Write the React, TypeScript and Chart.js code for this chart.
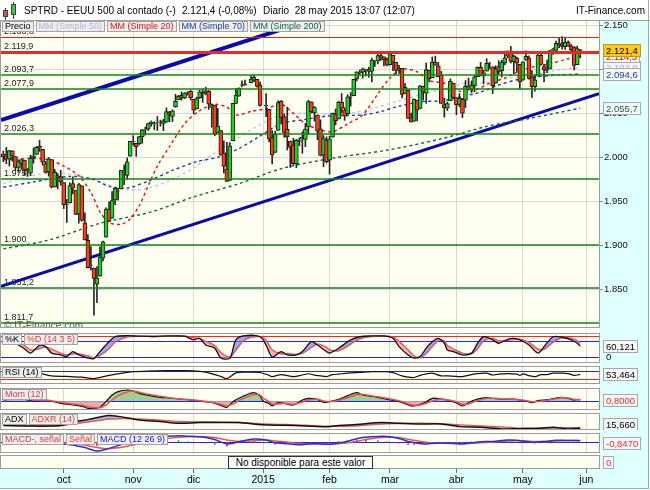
import React, { useEffect, useRef } from 'react';
import Chart from 'chart.js/auto';

const FONT = '"Liberation Sans", Arial, Helvetica, sans-serif';

// ---------- time axis: index = weekday count from 3 sep 2014 ----------
const monthStarts = [20, 43, 63, 86, 108, 128, 150, 172, 193];
const monthNames = ['oct', 'nov', 'dic', '2015', 'feb', 'mar', 'abr', 'may', 'jun'];
const priceTicks = [1850, 1900, 1950, 2000, 2050, 2100, 2150];

// ---------- daily candles (sep 2014 .. 28 may 2015) ----------
const opens = [
  2003.6, 2001.7, 1998.0, 2007.2, 2000.7, 1988.4, 1992.9, 1996.7, 1986.0, 1981.9, 1999.3, 2003.1, 2012.7, 2009.1, 1992.8, 1983.3, 1997.3, 1966.2, 1978.9, 1978.2,
  1971.4, 1945.8, 1948.1, 1970.0, 1962.4, 1935.6, 1967.7, 1925.6, 1905.7, 1877.1, 1874.2, 1855.9, 1864.9, 1885.6, 1909.4, 1941.3, 1931.0, 1951.6, 1962.0, 1964.1, 1983.3, 1979.5, 2001.2,
  2018.2, 2015.8, 2015.3, 2023.3, 2032.0, 2032.0, 2038.2, 2037.8, 2039.2, 2039.7, 2038.3, 2039.7, 2051.2, 2046.3, 2057.5, 2065.1, 2070.2, 2067.4, 2072.5, 2074.8,
  2065.8, 2054.8, 2067.5, 2073.6, 2072.8, 2074.8, 2056.6, 2058.9, 2027.9, 2030.4, 2005.0, 1986.7, 1973.8, 2018.9, 2061.0, 2069.3, 2081.5, 2083.3, null, 2084.3, 2087.6, 2088.5, 2082.1,
  null, 2058.9, 2054.4, 2022.2, 2005.6, 2030.6, 2063.5, 2046.1, 2031.6, 2018.4, 2013.8, 1992.3, 2019.0, 2020.8, 2020.2, 2034.3, 2062.9, 2050.4, 2047.9, 2032.3, 2002.5, 2019.4,
  1996.7, 2022.7, 2048.9, 2043.5, 2062.3, 2053.5, 2049.4, 2068.6, 2070.0, 2088.8, 2096.5, 2096.5, 2099.2, 2099.2, 2097.7, 2109.8, 2109.1, 2115.3, 2113.9, 2110.9,
  2105.2, 2115.8, 2107.7, 2098.5, 2100.9, 2072.3, 2076.1, 2044.7, 2041.1, 2064.6, 2055.4, 2080.6, 2072.8, 2098.7, 2090.3, 2108.0, 2103.9, 2093.1, 2059.9, 2055.8, 2064.1, 2084.1,
  2067.6, 2060.0, 2066.0, 2064.9, 2080.8, 2076.9, 2081.3, 2091.5, 2102.0, 2092.3, 2097.8, 2105.0, 2102.6, 2084.1, 2102.8, 2098.3, 2107.2, 2114.8, 2119.3, 2108.4, 2112.5, 2105.5,
  2087.4, 2110.2, 2112.6, 2091.3, 2080.0, 2092.1, 2115.6, 2102.9, 2099.6, 2100.4, 2122.1, 2121.3, 2129.5, 2127.8, 2125.6, 2130.4, 2126.5, 2125.3, 2105.1, 2122.3,
];
const highs = [
  2006.8, 2011.2, 2007.7, 2007.2, 2001.0, 1996.7, 1997.7, 1996.7, 1987.2, 2002.3, 2010.7, 2012.3, 2019.3, 2009.1, 1995.4, 1999.8, 1997.3, 1986.4, 1981.3, 1985.2,
  1971.4, 1952.3, 1971.2, 1977.8, 1962.4, 1970.4, 1967.7, 1936.9, 1912.1, 1898.7, 1874.2, 1876.0, 1898.2, 1905.0, 1942.5, 1949.3, 1961.0, 1965.3, 1964.6, 1985.1, 1991.4, 1999.4, 2018.2,
  2024.5, 2016.0, 2023.8, 2031.6, 2034.3, 2038.7, 2041.3, 2040.3, 2046.2, 2042.2, 2043.1, 2056.1, 2052.1, 2053.9, 2071.5, 2070.2, 2074.2, 2073.3, 2074.5, 2075.8,
  2065.8, 2068.2, 2076.3, 2077.3, 2079.5, 2075.8, 2060.6, 2058.9, 2055.5, 2030.4, 2018.7, 2016.9, 2016.8, 2061.2, 2077.9, 2078.8, 2086.7, 2087.6, null, 2092.7, 2093.6, 2088.5, 2085.7,
  null, 2072.4, 2054.4, 2030.3, 2029.6, 2064.1, 2064.4, 2049.3, 2056.9, 2018.4, 2021.4, 2020.5, 2022.0, 2028.9, 2038.3, 2064.6, 2062.9, 2057.6, 2047.9, 2042.5, 2024.6, 2023.3,
  2023.9, 2050.3, 2054.7, 2063.6, 2072.4, 2056.2, 2070.9, 2073.5, 2088.5, 2097.0, 2099.0, 2101.3, 2100.2, 2102.1, 2112.7, 2110.1, 2117.9, 2119.6, 2113.9, 2112.7,
  2117.5, 2115.8, 2107.7, 2104.3, 2100.9, 2083.5, 2076.1, 2050.1, 2066.4, 2064.6, 2081.4, 2080.6, 2106.9, 2098.7, 2113.9, 2114.9, 2107.6, 2097.4, 2067.2, 2062.8, 2089.0, 2084.1,
  2067.6, 2072.2, 2067.0, 2087.0, 2089.8, 2086.7, 2093.3, 2102.6, 2107.7, 2098.6, 2111.9, 2107.9, 2102.6, 2103.9, 2109.6, 2110.0, 2120.5, 2120.9, 2125.9, 2116.0, 2113.7, 2105.5,
  2108.4, 2120.9, 2115.2, 2098.4, 2092.9, 2117.7, 2117.7, 2105.1, 2110.2, 2121.5, 2123.9, 2131.8, 2135.5, 2137.0, 2136.0, 2132.2, 2128.0, 2125.3, 2126.2, 2122.3,
];
const lows = [
  1994.9, 1992.5, 1990.1, 1995.6, 1984.6, 1982.9, 1985.9, 1980.3, 1978.5, 1979.1, 1993.3, 2003.1, 2006.6, 1991.0, 1982.4, 1978.6, 1965.1, 1966.2, 1964.0, 1968.0,
  1941.7, 1926.0, 1948.1, 1958.4, 1934.9, 1925.3, 1927.6, 1906.1, 1874.1, 1871.8, 1820.7, 1835.0, 1864.9, 1882.3, 1909.4, 1926.8, 1931.0, 1946.3, 1951.4, 1964.1, 1969.0, 1974.8, 2001.2,
  2013.7, 2001.0, 2014.0, 2015.9, 2025.1, 2030.2, 2035.3, 2031.3, 2030.4, 2035.2, 2030.2, 2039.7, 2040.4, 2040.5, 2056.8, 2065.1, 2064.8, 2066.6, 2070.5, 2065.1,
  2049.6, 2054.8, 2066.7, 2062.3, 2070.8, 2054.3, 2034.2, 2024.3, 2027.9, 2002.3, 1982.3, 1972.6, 1973.8, 2018.9, 2061.0, 2069.3, 2079.8, 2081.9, null, 2084.3, 2085.8, 2079.5, 2057.9,
  null, 2046.0, 2017.3, 1992.4, 2005.6, 2030.6, 2038.3, 2022.6, 2008.3, 1988.4, 1991.5, 1988.1, 2013.0, 2004.5, 2012.0, 2026.4, 2050.5, 2041.0, 2019.9, 2001.5, 1989.2, 1993.4,
  1980.9, 2022.7, 2036.7, 2043.5, 2050.0, 2041.9, 2048.6, 2058.0, 2070.0, 2086.7, 2094.0, 2089.8, 2092.2, 2090.8, 2085.4, 2103.0, 2105.9, 2109.9, 2103.8, 2103.8,
  2104.5, 2098.3, 2094.5, 2095.2, 2067.3, 2072.2, 2044.2, 2039.7, 2041.1, 2041.2, 2055.4, 2065.1, 2061.2, 2085.6, 2090.3, 2104.4, 2091.5, 2061.1, 2045.5, 2053.0, 2064.1, 2067.0,
  2048.4, 2057.3, 2045.0, 2056.5, 2076.1, 2073.3, 2074.3, 2091.5, 2092.3, 2083.2, 2097.8, 2100.3, 2072.4, 2084.1, 2094.4, 2091.1, 2104.9, 2112.8, 2107.0, 2094.9, 2097.4, 2077.6,
  2087.4, 2110.2, 2088.5, 2067.9, 2075.0, 2092.1, 2104.6, 2085.6, 2096.0, 2100.4, 2116.8, 2120.0, 2124.5, 2122.6, 2122.5, 2126.1, 2120.0, 2099.2, 2105.1, 2112.8,
];
const closes = [
  2000.7, 1997.7, 2007.7, 2001.5, 1988.4, 1995.7, 1997.5, 1985.5, 1984.1, 1999.0, 2001.6, 2011.4, 2010.4, 1994.3, 1982.8, 1998.3, 1966.0, 1982.9, 1977.8, 1972.3,
  1946.2, 1946.2, 1967.9, 1964.8, 1935.1, 1968.9, 1928.2, 1906.1, 1874.7, 1877.7, 1862.5, 1862.8, 1886.8, 1904.0, 1941.3, 1927.1, 1950.8, 1964.6, 1961.6, 1985.1, 1982.3, 1994.7, 2018.1,
  2017.8, 2012.1, 2023.6, 2031.2, 2031.9, 2038.3, 2039.7, 2038.3, 2039.3, 2039.8, 2041.3, 2051.8, 2048.7, 2052.8, 2063.5, 2069.4, 2067.0, 2072.8, 2073.5, 2067.6,
  2053.4, 2066.6, 2074.3, 2071.9, 2075.4, 2060.3, 2059.8, 2026.1, 2035.3, 2002.3, 1989.6, 1972.7, 2012.9, 2061.2, 2070.7, 2078.5, 2082.2, 2081.9, null, 2088.8, 2090.6, 2080.4, 2058.9,
  null, 2058.2, 2020.6, 2002.6, 2025.9, 2062.1, 2044.8, 2028.3, 2023.0, 2011.3, 1992.7, 2019.4, 2018.0, 2022.6, 2032.1, 2063.2, 2051.8, 2057.1, 2029.6, 2002.2, 2021.3, 1995.0,
  2020.9, 2050.0, 2041.5, 2062.5, 2055.5, 2046.7, 2068.6, 2068.5, 2088.5, 2097.0, 2096.0, 2100.3, 2099.7, 2097.5, 2110.3, 2109.7, 2115.5, 2113.9, 2110.7, 2104.5,
  2117.4, 2107.8, 2098.5, 2101.0, 2071.3, 2079.4, 2044.2, 2040.2, 2066.0, 2053.4, 2081.2, 2074.3, 2099.5, 2089.3, 2108.1, 2104.4, 2091.5, 2061.1, 2056.2, 2061.0, 2086.2, 2067.9,
  2059.7, 2067.0, 2050.0, 2080.6, 2076.3, 2081.9, 2091.2, 2102.1, 2092.4, 2095.8, 2106.6, 2105.0, 2081.2, 2100.4, 2097.3, 2108.0, 2112.9, 2117.7, 2108.9, 2114.8, 2106.9, 2085.5,
  2108.3, 2114.5, 2089.5, 2080.2, 2088.0, 2116.1, 2105.3, 2099.1, 2098.5, 2121.1, 2122.7, 2129.2, 2127.8, 2125.9, 2130.8, 2126.1, 2122.0, 2104.2, 2123.5, 2121.4,
];

// ---------- moving averages [index, value] ----------
const sma20 = [[0, 1997], [5, 1998], [10, 1999], [15, 1997], [20, 1990], [25, 1979], [29, 1960], [32, 1938], [35, 1926], [39, 1924], [42, 1930], [45, 1945], [48, 1968], [51, 1990], [55, 2012], [60, 2038], [65, 2053], [70, 2060], [74, 2057], [77, 2048], [82, 2052], [87, 2055], [92, 2060], [96, 2050], [100, 2038], [105, 2031], [109, 2029], [114, 2038], [119, 2048], [124, 2072], [128, 2090], [132, 2100], [137, 2097], [141, 2087], [146, 2084], [151, 2075], [156, 2076], [161, 2084], [166, 2090], [171, 2098], [176, 2103], [181, 2106], [186, 2111], [191, 2114.5]];
const sma50 = [[0, 1970], [8, 1978], [15, 1982], [24, 1980], [32, 1972], [41, 1963], [48, 1965], [56, 1975], [63, 1988], [70, 2005], [77, 2020], [84, 2035], [92, 2048], [100, 2050], [108, 2049], [115, 2050], [122, 2055], [130, 2063], [137, 2070], [145, 2077], [152, 2083], [160, 2085], [168, 2090], [176, 2094], [184, 2099], [191, 2102]];
const sma70 = [[0, 1966], [10, 1972], [21, 1978], [29, 1976], [35, 1967], [41, 1965], [48, 1973], [56, 1985], [64, 1995], [71, 2000], [78, 2010], [84, 2022], [92, 2038], [100, 2043], [108, 2047], [119, 2048], [125, 2052], [130, 2057], [138, 2063], [145, 2064], [152, 2069], [158, 2074], [164, 2082], [170, 2088], [176, 2091], [182, 2093], [188, 2094], [191, 2094.6]];
const sma200 = [[0, 1896], [15, 1906], [32, 1925], [49, 1938], [63, 1955], [78, 1970], [92, 1987], [109, 1999], [127, 2008], [145, 2021], [160, 2035], [174, 2044], [191, 2055.7]];

// ---------- trend channel [index, price] ----------
const trendUpper = [[-0.77, 2042.3], [110, 2164.9]];
const trendLower = [[-0.77, 1853.5], [197.2, 2072.3]];

// ---------- horizontal levels ----------
const levelValues = [2136.8, 2119.9, 2093.7, 2077.9, 2026.3, 1975, 1900, 1851.2, 1811.7];
const levelLabels = ['2.136,8', '2.119,9', '2.093,7', '2.077,9', '2.026,3', '1.975', '1.900', '1.851,2', '1.811,7'];

// ---------- indicators ----------
const stochIdx = [0, 2, 4, 7, 9, 12, 14, 16, 19, 21, 23, 25, 28, 30, 32, 35, 37, 41, 45, 50, 55, 60, 63, 65, 67, 70, 72, 75, 77, 80, 85, 87, 89, 92, 94, 97, 99, 102, 104, 107, 108, 111, 115, 118, 122, 126, 129, 131, 134, 136, 138, 140, 142, 144, 146, 147, 149, 152, 155, 157, 159, 162, 164, 168, 171, 174, 177, 179, 182, 185, 188, 190, 191];
const stochK = [75, 82, 71, 50, 33, 64, 58, 33, 26, 20, 39, 26, 14, 12, 39, 77, 96, 100, 98, 97, 99, 98, 84, 90, 64, 52, 14, 14, 84, 100, 96, 64, 18, 39, 26, 26, 39, 77, 64, 39, 33, 52, 84, 96, 99, 99, 90, 58, 26, 14, 20, 52, 77, 90, 71, 45, 39, 26, 33, 71, 96, 84, 71, 90, 84, 64, 33, 58, 96, 94, 84, 71, 60.121];
const stochD = [78, 80, 78, 62, 45, 50, 57, 48, 33, 26, 30, 30, 22, 15, 24, 50, 75, 95, 98, 97, 98, 98, 92, 88, 78, 62, 35, 18, 45, 85, 97, 82, 45, 30, 32, 28, 32, 55, 68, 55, 45, 42, 68, 88, 97, 99, 95, 78, 45, 22, 16, 32, 58, 80, 80, 62, 48, 33, 30, 50, 80, 90, 80, 84, 86, 74, 48, 48, 75, 92, 90, 80, 72];

const rsiIdx = [0, 4, 8, 12, 16, 21, 26, 30, 35, 40, 43, 48, 54, 60, 65, 68, 72, 74, 77, 80, 85, 88, 89, 92, 96, 99, 101, 103, 105, 107, 109, 111, 114, 118, 122, 126, 129, 132, 134, 136, 138, 140, 142, 145, 147, 150, 152, 155, 157, 160, 162, 164, 167, 170, 171, 172, 174, 176, 178, 180, 182, 185, 187, 189, 191];
const rsiVals = [55, 48, 45, 58, 45, 42, 38, 30, 48, 62, 68, 72, 74, 74, 70, 62, 42, 30, 62, 66, 64, 48, 41, 52, 41, 50, 57, 49, 45, 41, 52, 55, 60, 64, 68, 68, 63, 45, 38, 36, 48, 56, 60, 45, 45, 42, 41, 52, 58, 60, 50, 55, 58, 55, 48, 56, 47, 41, 52, 52, 60, 60, 58, 48, 53.464];

const momIdx = [0, 3, 6, 10, 14, 17, 19, 23, 26, 28, 30, 32, 34, 36, 38, 41, 43, 45, 48, 52, 55, 58, 62, 65, 68, 70, 72, 74, 76, 78, 80, 83, 85, 86, 88, 89, 91, 93, 96, 99, 101, 104, 106, 108, 111, 114, 117, 119, 121, 124, 127, 131, 133, 135, 137, 139, 142, 144, 147, 150, 152, 154, 156, 158, 160, 163, 166, 169, 171, 173, 175, 177, 179, 181, 183, 185, 187, 189, 190, 191];
const momVals = [0.6, 1.2, 1.4, 0, 0.6, -0.6, -1.4, -2.4, -3.2, -4.4, -4.6, -3.8, -0.4, 3.6, 5.6, 6.6, 6.0, 4.6, 3.4, 2.2, 1.8, 1.2, 0.6, 0, -0.6, -1.4, -2.6, -3.8, -0.4, 1.6, 3.4, 5.0, 3.0, 0, -1.6, -3.0, -1.0, -1.4, -2.4, 0.6, 1.6, 1.0, -0.8, -0.4, 1.0, 3.2, 5.0, 3.6, 3.0, 2.2, 1.0, -0.4, -1.6, -3.0, -2.6, -1.4, 1.6, 1.4, 0.6, -1.2, -3.0, -1.0, 0.6, 1.6, 2.0, 1.4, 1.0, 1.2, 0.6, 0, -1.0, 0.2, 0.6, 1.0, 1.8, 2.2, 1.6, 0.6, 0.9, 0.8];
const momSignal = [0.8, 1.0, 1.2, 0.6, 0.4, -0.2, -0.8, -1.8, -2.6, -3.4, -4.0, -4.0, -2.4, 0.6, 3.2, 5.4, 6.0, 5.2, 4.0, 2.8, 2.0, 1.4, 0.8, 0.2, -0.4, -1.0, -2.0, -3.0, -1.8, 0.2, 2.0, 3.8, 3.6, 1.8, -0.4, -1.8, -1.8, -1.4, -2.0, -0.6, 0.8, 1.0, 0, -0.4, 0.4, 2.0, 3.8, 4.0, 3.4, 2.6, 1.6, 0.2, -1.0, -2.2, -2.6, -2.0, 0, 1.0, 0.8, -0.4, -2.0, -1.8, -0.4, 0.8, 1.6, 1.6, 1.2, 1.1, 0.8, 0.3, -0.5, -0.3, 0.2, 0.7, 1.4, 1.9, 1.8, 1.0, 0.9, 0.8];

const adxIdx = [0, 10, 18, 21, 24, 28, 32, 35, 38, 42, 45, 52, 58, 65, 72, 78, 86, 93, 100, 107, 111, 118, 125, 131, 138, 145, 151, 158, 165, 171, 178, 182, 187, 191];
const adxVals = [20, 19, 19.5, 22, 26, 29, 33, 35.2, 34, 31, 28.5, 26, 23.4, 24.4, 24.4, 24.4, 21, 20.3, 19.3, 18.2, 19.8, 21.8, 24.4, 23.4, 22.3, 22.3, 18.2, 17.2, 14.6, 15.1, 15.7, 17.2, 14.6, 15.66];
const adxrVals = [21, 20, 20, 21, 23, 25.5, 28, 29.8, 30.5, 30.5, 30, 28, 26, 25.4, 25, 24.6, 22.3, 21.3, 20.3, 18.6, 18.8, 19.6, 22.3, 23, 23.4, 22.6, 20.8, 19, 17.5, 15.7, 15.9, 16.2, 16.4, 16.7];

const macdIdx = [0, 5, 10, 15, 20, 24, 27, 31, 34, 38, 42, 46, 50, 54, 58, 61, 64, 67, 70, 74, 78, 83, 87, 90, 93, 98, 102, 105, 108, 111, 114, 117, 120, 124, 127, 131, 134, 136, 140, 143, 147, 150, 152, 155, 158, 162, 167, 170, 173, 176, 180, 183, 185, 188, 191];
const macdVals = [8, 5, 2, 1, -6, -12, -19, -31, -25, -12, 2, 12, 18, 22, 24, 22, 20, 17, 10, -6, 2, 12, 8, -2, -4, -9, -5, -6, -7, -2, 4, 13, 18, 21, 21, 14, 3, -1, -6, -3, -3, -5, -6, -2, 2, 3, 8, 7, 3, 0, 4, 7, 7.5, 6.5, 6];
const macdSignal = [9, 7.5, 5, 3, 0, -5, -10, -19, -23, -20, -12, -3, 6, 13, 18, 20, 21, 20, 17, 8, 3, 6, 8, 5, 2, -4, -5, -5.5, -6.3, -5, -2, 4, 10, 16, 18.5, 17.5, 11, 7, 0, -2.5, -3, -3.8, -4.5, -3.8, -1.5, 1, 5, 6, 5, 3, 3.2, 5, 6, 6.6, 6.85];
const macdHist = [-1, -2.5, -3, -2, -6, -7, -9, -12, -2, 8, 14, 15, 12, 9, 6, 2, -1, -3, -7, -14, -1, 6, 0, -7, -6, -5, 0, -0.5, -0.7, 3, 6, 9, 8, 5, 2.5, -3.5, -8, -8, -6, -0.5, 0, -1.2, -1.5, 1.8, 3.5, 2, 3, 1, -2, -3, 0.8, 2, 1.5, -0.1, -0.847];

// ---------- styles ----------
const UP = '#24cc24';
const DOWN = '#ff3c12';
const IVORY = '#fffff2';
const CYAN = '#e0ffff';
const GRID = '#d8d8d8';
const FRAME = '#9c9c9c';
const C_SMA20 = '#e01010';
const C_SMA50 = '#c2c2f4';
const C_SMA70 = '#1442b0';
const C_SMA200 = '#0b6b3a';
const LEVEL_STYLE = [
  { color: '#ee1c1c', width: 1 },
  { color: '#e42a2a', width: 3 },
  { color: '#118811', width: 1.3 },
  { color: '#118811', width: 1.3 },
  { color: '#118811', width: 1.3 },
  { color: '#118811', width: 1.3 },
  { color: '#118811', width: 1.3 },
  { color: '#118811', width: 1.3 },
  { color: '#118811', width: 1.3 },
];

function fmt(v: number, dec: number) {
  const s = Math.abs(v).toFixed(dec);
  const [int, frac] = s.split('.');
  const dotted = int.replace(/\B(?=(\d{3})+(?!\d))/g, '.');
  return (v < 0 ? '-' : '') + dotted + (frac ? ',' + frac : '');
}

const pairs = (arr: number[][]) => arr.map(([x, y]) => ({ x, y }));
const zipPts = (xs: number[], ys: number[]) => xs.map((x, k) => ({ x, y: ys[k] }));

function drawBox(ctx: any, x: number, yc: number, text: string, color: string, bg: string, border: string) {
  ctx.save();
  ctx.font = `9.5px ${FONT}`;
  const tw = ctx.measureText(text).width;
  const w = Math.round(tw + 5);
  const h = 12;
  const top = Math.round(yc - h / 2) + 0.5;
  ctx.fillStyle = bg;
  ctx.fillRect(x + 0.5, top, w, h);
  ctx.strokeStyle = border;
  ctx.lineWidth = 1;
  ctx.strokeRect(x + 0.5, top, w, h);
  ctx.fillStyle = color;
  ctx.textBaseline = 'middle';
  ctx.textAlign = 'left';
  ctx.fillText(text, x + 3, top + h / 2 + 0.5);
  ctx.restore();
}

const frame = {
  id: 'frame',
  beforeDraw(chart: any) {
    const { ctx, chartArea: a } = chart;
    ctx.save();
    ctx.fillStyle = IVORY;
    ctx.fillRect(a.left, a.top, a.right - a.left, a.bottom - a.top);
    ctx.restore();
  },
  afterDraw(chart: any) {
    const { ctx, chartArea: a } = chart;
    ctx.save();
    ctx.strokeStyle = FRAME;
    ctx.lineWidth = 1;
    ctx.strokeRect(a.left - 0.5, a.top + 0.5, a.right - a.left + 1, a.bottom - a.top - 1);
    ctx.restore();
  },
};

function xAxis(labels: boolean) {
  return {
    type: 'linear',
    min: -0.77,
    max: 197.2,
    bounds: 'data',
    offset: false,
    afterBuildTicks: (s: any) => {
      s.ticks = monthStarts.map((v) => ({ value: v }));
    },
    afterFit: (s: any) => {
      s.height = labels ? 21 : 0;
      s.paddingLeft = 0;
      s.paddingRight = 0;
    },
    border: { display: false },
    grid: {
      color: GRID,
      offset: false,
      drawOnChartArea: !labels,
      drawTicks: labels,
      tickLength: 4,
      tickColor: '#666',
    },
    ticks: {
      display: labels,
      autoSkip: false,
      maxRotation: 0,
      padding: 1,
      color: '#000',
      font: { family: FONT, size: 10.5 },
      callback: (_v: any, i: number) => monthNames[i],
    },
  };
}

function subOverlay(levels: any[], labels: any[]) {
  return {
    id: 'subOverlay',
    beforeDatasetsDraw(chart: any) {
      const { ctx, chartArea: a, scales } = chart;
      ctx.save();
      levels.forEach((l) => {
        const py = Math.round(scales.y.getPixelForValue(l.v)) + 0.5;
        ctx.strokeStyle = l.color;
        ctx.lineWidth = 1;
        ctx.beginPath();
        ctx.moveTo(a.left, py);
        ctx.lineTo(a.right, py);
        ctx.stroke();
      });
      ctx.restore();
    },
    afterDraw(chart: any) {
      const { ctx, chartArea: a, scales } = chart;
      labels.forEach((l) => {
        let yc = scales.y.getPixelForValue(l.v);
        yc = Math.max(a.top + 6, Math.min(a.bottom - 6, yc));
        if (l.boxed) {
          drawBox(ctx, 603, yc, l.text, l.color, '#f7f7f7', '#a8a8a8');
        } else {
          ctx.save();
          ctx.font = `9.5px ${FONT}`;
          ctx.fillStyle = l.color;
          ctx.textBaseline = 'middle';
          ctx.fillText(l.text, 606, yc);
          ctx.restore();
        }
      });
    },
  };
}

function subConfig(datasets: any[], ymin: number, ymax: number, plugin: any, xLabels = false) {
  return {
    type: 'line',
    data: { datasets },
    options: {
      responsive: false,
      animation: false,
      devicePixelRatio: 1,
      events: [],
      layout: { padding: { left: 1, right: 51, top: 0, bottom: 0 } },
      plugins: { legend: { display: false }, tooltip: { enabled: false } },
      elements: { point: { radius: 0 } },
      scales: {
        x: xAxis(xLabels),
        y: { type: 'linear', display: false, min: ymin, max: ymax },
      },
    },
    plugins: [frame, plugin],
  };
}

function mainConfig() {
  const bodies: any[] = [];
  const wicks: any[] = [];
  const bodyColors: string[] = [];
  for (let i = 0; i < closes.length; i++) {
    if (opens[i] == null) continue;
    bodies.push({ x: i, y: [opens[i], closes[i]] });
    wicks.push({ x: i, y: [lows[i], highs[i]] });
    bodyColors.push((closes[i] as number) >= (opens[i] as number) ? UP : DOWN);
  }
  const maLine = (data: number[][], color: string, order: number) => ({
    type: 'line',
    data: pairs(data),
    borderColor: color,
    borderWidth: 1.4,
    borderDash: [3, 3],
    pointRadius: 0,
    tension: 0.3,
    order,
  });
  const trendLine = (data: number[][], width: number) => ({
    type: 'line',
    data: pairs(data),
    borderColor: '#0a0ab4',
    borderWidth: width,
    pointRadius: 0,
    clip: 0,
    order: 10,
  });

  const overlay = {
    id: 'mainOverlay',
    beforeDatasetsDraw(chart: any) {
      const { ctx, chartArea: a, scales } = chart;
      ctx.save();
      ctx.font = `9px ${FONT}`;
      ctx.fillStyle = '#222';
      ctx.textBaseline = 'bottom';
      levelValues.forEach((v, k) => {
        const py = scales.y.getPixelForValue(v);
        ctx.fillText(levelLabels[k], a.left + 3, py - 1);
      });
      ctx.restore();
    },
    afterDatasetsDraw(chart: any) {
      const { ctx, chartArea: a, scales } = chart;
      ctx.save();
      ctx.beginPath();
      ctx.rect(a.left, a.top, a.right - a.left, a.bottom - a.top);
      ctx.clip();
      levelValues.forEach((v, k) => {
        const st = LEVEL_STYLE[k];
        const raw = scales.y.getPixelForValue(v);
        const py = st.width % 2 === 1 ? Math.round(raw) + 0.5 : Math.round(raw);
        ctx.strokeStyle = st.color;
        ctx.lineWidth = st.width;
        ctx.beginPath();
        ctx.moveTo(a.left, py);
        ctx.lineTo(a.right, py);
        ctx.stroke();
      });
      ctx.font = `10px ${FONT}`;
      ctx.fillStyle = '#555';
      ctx.textBaseline = 'alphabetic';
      ctx.fillText('\u00a9 IT-Finance.com', a.left + 3, a.bottom + 1);
      ctx.restore();
    },
    afterDraw(chart: any) {
      const { ctx, scales } = chart;
      const y = scales.y;
      const last = (arr: number[][]) => arr[arr.length - 1][1];
      const items = [
        { v: last(sma200), color: C_SMA200, bg: '#f7f7f7', border: '#a8a8a8' },
        { v: last(sma50), color: '#a8a8ee', bg: '#f7f7f7', border: '#a8a8a8' },
        { v: last(sma70), color: C_SMA70, bg: '#f7f7f7', border: '#a8a8a8' },
        { v: last(sma20), color: C_SMA20, bg: '#f7f7f7', border: '#a8a8a8' },
        { v: closes[closes.length - 1] as number, color: '#000', bg: '#ffc81e', border: '#c89a00' },
      ];
      items.forEach((it) => drawBox(ctx, 603, y.getPixelForValue(it.v), fmt(it.v, 1), it.color, it.bg, it.border));
    },
  };

  return {
    type: 'bar',
    data: {
      datasets: [
        {
          type: 'bar',
          data: bodies,
          backgroundColor: bodyColors,
          borderColor: '#1a1a1a',
          borderWidth: 1,
          borderSkipped: false,
          barThickness: 4,
          grouped: false,
          order: 0,
        },
        {
          type: 'bar',
          data: wicks,
          backgroundColor: '#262626',
          borderWidth: 0,
          barThickness: 1,
          grouped: false,
          order: 1,
        },
        maLine(sma50, C_SMA50, 5),
        maLine(sma200, C_SMA200, 4),
        maLine(sma70, C_SMA70, 3),
        maLine(sma20, C_SMA20, 2),
        trendLine(trendUpper, 4),
        trendLine(trendLower, 3),
      ],
    },
    options: {
      responsive: false,
      animation: false,
      devicePixelRatio: 1,
      events: [],
      layout: { padding: { left: 1, right: 0, top: 0, bottom: 0 } },
      plugins: { legend: { display: false }, tooltip: { enabled: false } },
      scales: {
        x: xAxis(false),
        y: {
          type: 'linear',
          position: 'right',
          min: 1806.2,
          max: 2155.8,
          bounds: 'data',
          afterBuildTicks: (s: any) => {
            s.ticks = priceTicks.map((v) => ({ value: v }));
          },
          afterFit: (s: any) => {
            s.width = 51;
            s.paddingTop = 0;
            s.paddingBottom = 0;
          },
          grid: { color: GRID, drawTicks: true, tickLength: 4, tickColor: '#888' },
          border: { display: true, color: FRAME },
          ticks: {
            padding: 1,
            color: '#111',
            font: { family: FONT, size: 9.5 },
            callback: (v: any) => fmt(Number(v), 0),
          },
        },
      },
    },
    plugins: [frame, overlay],
  };
}

function stochConfig() {
  return subConfig(
    [
      {
        data: zipPts(stochIdx, stochK),
        borderColor: '#111',
        borderWidth: 1.3,
        tension: 0.3,
        fill: { target: 1, above: 'rgba(118,118,224,0.65)', below: 'rgba(238,140,140,0.65)' },
      },
      { data: zipPts(stochIdx, stochD), borderColor: '#f04848', borderWidth: 1.5, tension: 0.3, fill: false },
    ],
    -5,
    110.4,
    subOverlay(
      [
        { v: 100, color: '#ff2020' },
        { v: 80, color: '#2020ff' },
        { v: 20, color: '#2020ff' },
      ],
      [
        { v: 0, text: '0', color: '#000', boxed: false },
        { v: stochK[stochK.length - 1], text: fmt(stochK[stochK.length - 1], 3), color: '#000', boxed: true },
      ]
    )
  );
}

function rsiConfig() {
  return subConfig(
    [{ data: zipPts(rsiIdx, rsiVals), borderColor: '#111', borderWidth: 1.2, tension: 0.3, fill: false }],
    0,
    100,
    subOverlay(
      [
        { v: 70, color: '#2020ff' },
        { v: 30, color: '#ff2020' },
      ],
      [{ v: rsiVals[rsiVals.length - 1], text: fmt(rsiVals[rsiVals.length - 1], 3), color: '#000', boxed: true }]
    )
  );
}

function momConfig() {
  return subConfig(
    [
      { data: zipPts(momIdx, momSignal), borderColor: '#ee5050', borderWidth: 1.5, tension: 0.3, fill: false },
      {
        data: zipPts(momIdx, momVals),
        borderColor: '#111',
        borderWidth: 1.2,
        tension: 0.3,
        fill: { target: 'origin', above: 'rgba(140,200,128,0.85)', below: 'rgba(222,160,160,0.85)' },
      },
    ],
    -5.4,
    7.8,
    subOverlay(
      [{ v: 0, color: '#2020ff' }],
      [{ v: momVals[momVals.length - 1], text: fmt(momVals[momVals.length - 1], 4), color: '#e03030', boxed: true }]
    )
  );
}

function adxConfig() {
  return subConfig(
    [
      {
        data: zipPts(adxIdx, adxVals),
        borderColor: '#111',
        borderWidth: 1.5,
        tension: 0.3,
        fill: { target: 1, above: 'rgba(128,128,222,0.6)', below: 'rgba(240,150,150,0.6)' },
      },
      { data: zipPts(adxIdx, adxrVals), borderColor: '#ee4a4a', borderWidth: 1.5, tension: 0.3, fill: false },
    ],
    13,
    39.2,
    subOverlay([], [{ v: adxVals[adxVals.length - 1], text: fmt(adxVals[adxVals.length - 1], 3), color: '#000', boxed: true }])
  );
}

function macdConfig() {
  return subConfig(
    [
      {
        type: 'bar',
        data: zipPts(macdIdx, macdHist),
        backgroundColor: macdHist.map((v) => (v >= 0 ? '#2a9a2a' : '#e03030')),
        borderWidth: 0,
        barThickness: 1,
        grouped: false,
        order: 3,
      },
      { data: zipPts(macdIdx, macdSignal), borderColor: '#f05050', borderWidth: 1.5, tension: 0.3, fill: false, order: 2 },
      { data: zipPts(macdIdx, macdVals), borderColor: '#2030e8', borderWidth: 1.5, tension: 0.3, fill: false, order: 1 },
    ],
    -38.5,
    33.5,
    subOverlay(
      [{ v: 0, color: '#2020ff' }],
      [{ v: macdHist[macdHist.length - 1], text: fmt(macdHist[macdHist.length - 1], 4), color: '#e03030', boxed: true }]
    )
  );
}

function bottomConfig() {
  return subConfig([], 0, 1, subOverlay([], [{ v: 0.5, text: '0', color: '#e03030', boxed: true }]), true);
}

function Panel({ top, height, config }: { top: number; height: number; config: () => any }) {
  const ref = useRef<HTMLCanvasElement>(null);
  useEffect(() => {
    const chart = new Chart(ref.current as HTMLCanvasElement, config());
    return () => chart.destroy();
  }, []);
  return (
    <canvas
      ref={ref}
      width={650}
      height={height}
      style={{ position: 'absolute', left: 0, top, width: 650, height, display: 'block' }}
    />
  );
}

function Tags({ x, y, items }: { x: number; y: number; items: [string, string][] }) {
  return (
    <div style={{ position: 'absolute', left: x, top: y, display: 'flex', gap: 2 }}>
      {items.map(([t, c]) => (
        <div
          key={t}
          style={{
            boxSizing: 'border-box',
            height: 11,
            lineHeight: '9px',
            padding: '0 2px',
            border: '1px solid #a4a4a4',
            background: '#eeeeee',
            color: c,
            fontSize: 9,
            fontFamily: FONT,
            whiteSpace: 'nowrap',
          }}
        >
          {t}
        </div>
      ))}
    </div>
  );
}

export default function App() {
  const abs = (s: any) => ({ position: 'absolute', ...s });
  const head = { top: 4, fontSize: 10, lineHeight: '14px', color: '#000', whiteSpace: 'pre' };
  return (
    <div
      style={{
        position: 'absolute',
        left: 0,
        top: 0,
        width: 650,
        height: 490,
        overflow: 'hidden',
        background: '#ffffff',
        fontFamily: FONT,
      }}
    >
      <div style={abs({ left: 599, top: 20, width: 51, height: 470, background: CYAN })} />
      <div style={abs({ left: 0, top: 469, width: 650, height: 21, background: CYAN })} />

      <Panel top={20} height={308} config={mainConfig} />
      <Panel top={333} height={30} config={stochConfig} />
      <Panel top={366} height={18} config={rsiConfig} />
      <Panel top={388} height={22} config={momConfig} />
      <Panel top={413} height={17} config={adxConfig} />
      <Panel top={433} height={20} config={macdConfig} />
      <Panel top={455} height={35} config={bottomConfig} />

      <div style={abs({ left: 0, top: 20, width: 650, height: 1, background: '#a0a0a0' })} />
      <div style={abs({ left: 648, top: 0, width: 1, height: 489, background: '#a8a8a8' })} />
      <div style={abs({ left: 0, top: 488, width: 649, height: 1, background: '#a8a8a8' })} />

      {/* header icon */}
      <div style={abs({ left: 5, top: 8, width: 1, height: 12, background: '#333' })} />
      <div style={abs({ left: 3, top: 10, width: 5, height: 7, background: '#e84a3a', border: '1px solid #444', boxSizing: 'border-box' })} />
      <div style={abs({ left: 13, top: 2, width: 1, height: 17, background: '#333' })} />
      <div style={abs({ left: 11, top: 4, width: 5, height: 11, background: '#33cc33', border: '1px solid #444', boxSizing: 'border-box' })} />

      <div style={abs({ ...head, left: 24 })}>SPTRD - EEUU 500 al contado (-)</div>
      <div style={abs({ ...head, left: 182 })}>2.121,4 (-0,08%)</div>
      <div style={abs({ ...head, left: 263 })}>Diario  28 may 2015 13:07 (12:07)</div>
      <div style={abs({ ...head, right: 5 })}>IT-Finance.com</div>

      <Tags
        x={2}
        y={21}
        items={[
          ['Precio', '#000'],
          ['MM (Simple 50)', '#b4b4ee'],
          ['MM (Simple 20)', '#e01010'],
          ['MM (Simple 70)', '#1440a8'],
          ['MM (Simple 200)', '#0b6b3a'],
        ]}
      />
      <Tags x={2} y={334} items={[['%K', '#000'], ['%D (14 3 5)', '#e03c3c']]} />
      <Tags x={2} y={367} items={[['RSI (14)', '#000']]} />
      <Tags x={2} y={389} items={[['Mom (12)', '#e03c3c']]} />
      <Tags x={2} y={414} items={[['ADX', '#000'], ['ADXR (14)', '#e03c3c']]} />
      <Tags x={2} y={434} items={[['MACD-, señal', '#e03c3c'], ['Señal', '#e03c3c'], ['MACD (12 26 9)', '#2020d0']]} />

      <div
        style={abs({
          left: 228,
          top: 456,
          width: 145,
          height: 13,
          boxSizing: 'border-box',
          border: '1px solid #333',
          background: '#fff',
          fontSize: 10,
          lineHeight: '11px',
          textAlign: 'center',
          color: '#000',
          whiteSpace: 'nowrap',
        })}
      >
        No disponible para este valor
      </div>
    </div>
  );
}
